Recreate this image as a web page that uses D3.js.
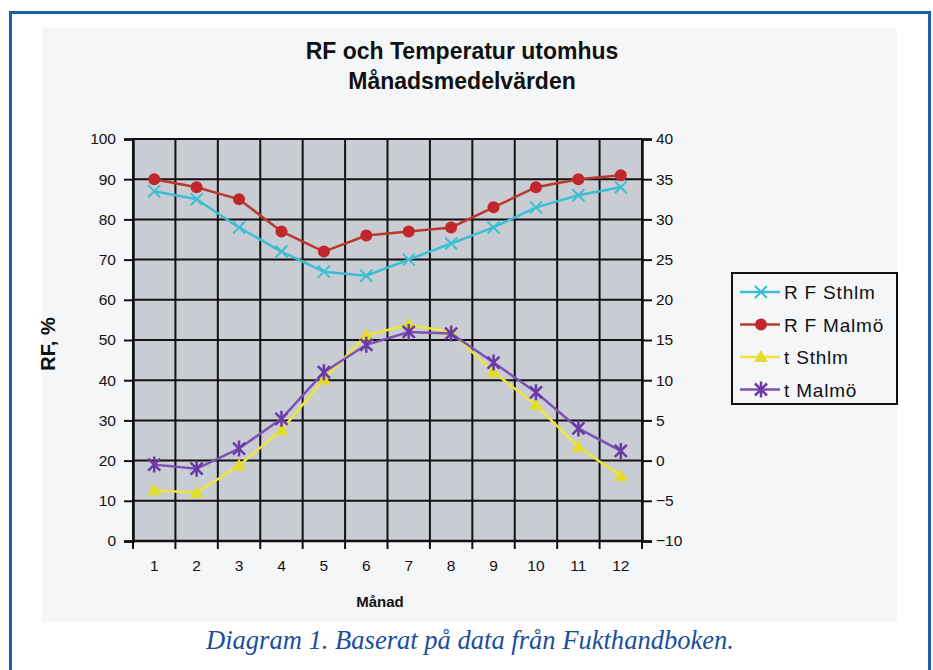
<!DOCTYPE html>
<html><head><meta charset="utf-8">
<script src="https://cdn.jsdelivr.net/npm/d3@7/dist/d3.min.js"></script>
<style>
html,body{margin:0;padding:0;background:#fff;}
svg{display:block;}
</style></head>
<body>
<svg id="chart" width="933" height="670"></svg>
<script>
const months = [1,2,3,4,5,6,7,8,9,10,11,12];
const rfSthlm  = [87,85,78,72,67,66,70,74,78,83,86,88];
const rfMalmo  = [90,88,85,77,72,76,77,78,83,88,90,91];
const tSthlm   = [-3.7,-4,-0.6,3.8,10.1,15.6,16.9,16,11,6.9,1.7,-1.9];
const tMalmo   = [-0.5,-1,1.5,5.2,11,14.4,16,15.8,12.2,8.5,4,1.2];
const leftTicks  = [0,10,20,30,40,50,60,70,80,90,100];
const rightTicks = [-10,-5,0,5,10,15,20,25,30,35,40];
const seriesNames = ["R F Sthlm","R F Malmö","t Sthlm","t Malmö"];
const titleLines = ["RF och Temperatur utomhus","Månadsmedelvärden"];
const caption = "Diagram 1. Baserat på data från Fukthandboken.";

const svg = d3.select("#chart");
const font = "'Liberation Sans', Arial, sans-serif";

// outer frame
svg.append("rect").attr("x",10.5).attr("y",12.5).attr("width",919).attr("height",700)
  .attr("fill","#fff").attr("stroke","#1b5fae").attr("stroke-width",3);
// chart area
svg.append("rect").attr("x",42).attr("y",28).attr("width",855).attr("height",594)
  .attr("fill","#f5f6f8");

const L=133, R=642, T=139, B=541;
const x = d3.scaleBand().domain(months).range([L,R]);
const yL = d3.scaleLinear().domain([0,100]).range([B,T]);
const yR = d3.scaleLinear().domain([-10,40]).range([B,T]);
const cx = d => x(d)+x.bandwidth()/2;

// plot area
svg.append("rect").attr("x",L).attr("y",T).attr("width",R-L).attr("height",B-T).attr("fill","#c9ccd3");

// grid
const g = svg.append("g");
g.selectAll("line.h").data(leftTicks).join("line")
  .attr("x1",L).attr("x2",R).attr("y1",d=>yL(d)).attr("y2",d=>yL(d))
  .attr("stroke","#111").attr("stroke-width",2);
const bounds = months.map(m=>x(m)).concat([R]);
g.selectAll("line.v").data(bounds).join("line")
  .attr("x1",d=>d).attr("x2",d=>d).attr("y1",T).attr("y2",B)
  .attr("stroke","#111").attr("stroke-width",2);

// axes
const axL = svg.append("g").attr("transform",`translate(${L},0)`)
  .call(d3.axisLeft(yL).tickValues(leftTicks).tickSize(9).tickPadding(8));
const axR = svg.append("g").attr("transform",`translate(${R},0)`)
  .call(d3.axisRight(yR).tickValues(rightTicks).tickSize(10).tickPadding(4));
const axB = svg.append("g").attr("transform",`translate(0,${B})`)
  .call(d3.axisBottom(x).tickSize(0).tickPadding(19));
svg.append("g").selectAll("line").data(bounds).join("line")
  .attr("x1",d=>d).attr("x2",d=>d).attr("y1",B).attr("y2",B+8)
  .attr("stroke","#111").attr("stroke-width",2);
[axL,axR,axB].forEach(a=>{
  a.selectAll("path.domain").attr("stroke","#111").attr("stroke-width",2.5);
  a.selectAll(".tick line").attr("stroke","#111").attr("stroke-width",2);
  a.selectAll("text").attr("font-family",font).attr("font-size",15.5).attr("fill","#111");
});
axB.select("path.domain").attr("d",`M${L},0H${R}`);

// titles
svg.selectAll("text.title").data(titleLines).join("text")
  .attr("x",462).attr("y",(d,i)=>59+i*29.5).attr("text-anchor","middle")
  .attr("font-family",font).attr("font-weight","bold").attr("font-size",23).attr("fill","#111")
  .text(d=>d);
svg.append("text").attr("transform","translate(55,344) rotate(-90)").attr("text-anchor","middle")
  .attr("font-family",font).attr("font-weight","bold").attr("font-size",20).attr("fill","#111").text("RF, %");
svg.append("text").attr("x",380).attr("y",607).attr("text-anchor","middle")
  .attr("font-family",font).attr("font-weight","bold").attr("font-size",15).attr("fill","#111").text("Månad");
svg.append("text").attr("x",470).attr("y",649).attr("text-anchor","middle")
  .attr("font-family","'Liberation Serif','Times New Roman',serif").attr("font-style","italic")
  .attr("font-size",27).attr("textLength",528).attr("lengthAdjust","spacingAndGlyphs")
  .attr("fill","#1b4f9e").text(caption);

// markers
function marker(sel, type, color){
  if(type==="x"){
    sel.append("path").attr("d","M-6,-6L6,6M-6,6L6,-6").attr("stroke",color).attr("stroke-width",2).attr("fill","none");
  } else if(type==="circle"){
    sel.append("circle").attr("r",6).attr("fill",color);
  } else if(type==="tri"){
    sel.append("path").attr("d","M0,-7L7,5L-7,5Z").attr("fill",color);
  } else {
    sel.append("path").attr("d","M-6,-6L6,6M-6,6L6,-6M0,-8L0,8").attr("stroke",color).attr("stroke-width",2.5).attr("fill","none");
  }
}
const series = [
  {name:seriesNames[0], vals:rfSthlm, y:yL, line:"#3cbfd2", mk:"#3cbfd2", type:"x"},
  {name:seriesNames[1], vals:rfMalmo, y:yL, line:"#b83a2c", mk:"#c0262a", type:"circle"},
  {name:seriesNames[2], vals:tSthlm, y:yR, line:"#eae63a", mk:"#e2dc2a", type:"tri"},
  {name:seriesNames[3], vals:tMalmo, y:yR, line:"#7b52b3", mk:"#6a3aa6", type:"star"}
];
series.forEach(s=>{
  const line = d3.line().x((d,i)=>cx(months[i])).y(d=>s.y(d));
  svg.append("path").attr("d",line(s.vals)).attr("fill","none").attr("stroke",s.line).attr("stroke-width",2.5);
  s.vals.forEach((v,i)=>{
    const gm = svg.append("g").attr("transform",`translate(${cx(months[i])},${s.y(v)})`);
    marker(gm,s.type,s.mk);
  });
});

// legend
svg.append("rect").attr("x",732).attr("y",273).attr("width",165).attr("height",131)
  .attr("fill","#f5f6f8").attr("stroke","#111").attr("stroke-width",2);
series.forEach((s,i)=>{
  const yy = 292+i*32.5;
  svg.append("line").attr("x1",740).attr("x2",780).attr("y1",yy).attr("y2",yy).attr("stroke",s.line).attr("stroke-width",2.5);
  marker(svg.append("g").attr("transform",`translate(761,${yy})`), s.type, s.mk);
  svg.append("text").attr("x",784).attr("y",yy+7).attr("font-family",font).attr("font-size",19)
    .attr("fill","#111").attr("letter-spacing",0.8).text(s.name);
});
</script>
</body></html>
